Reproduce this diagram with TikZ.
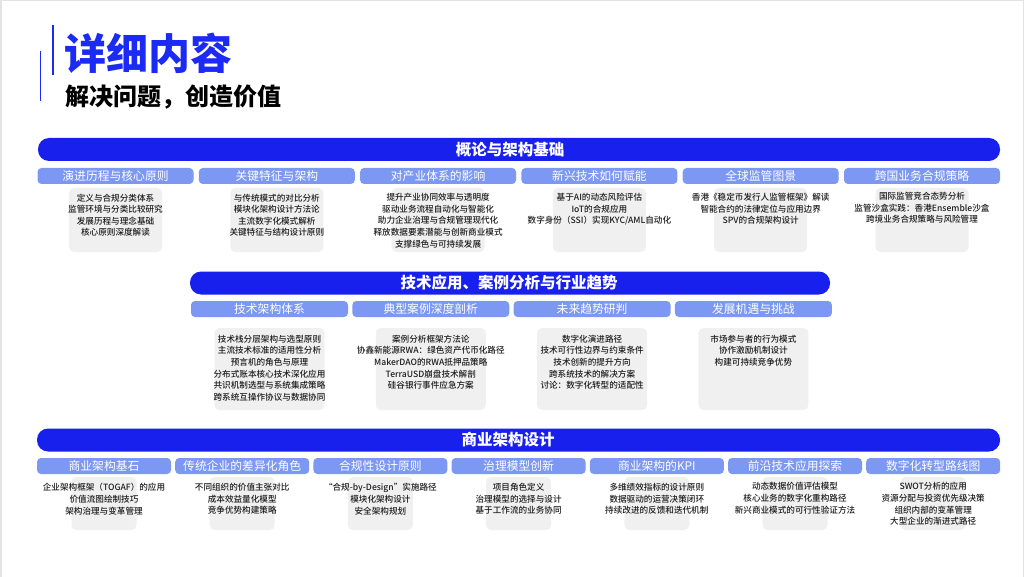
\documentclass[tikz,border=0pt]{standalone}
\usepackage{fontspec}
\setmainfont{Noto Sans CJK SC}
\newfontfamily\heavyfont{Noto Sans CJK SC Black}
\newfontfamily\medfont{Noto Sans CJK SC Medium}
\definecolor{barblue}{RGB}{24,32,238}
\definecolor{titleblue}{RGB}{28,42,245}
\definecolor{hdrblue}{RGB}{124,152,242}
\definecolor{cellgray}{RGB}{240,240,240}
\definecolor{bodytext}{RGB}{30,30,30}
\tikzset{
  banner/.style={fill=barblue, rounded corners=11pt, draw=none, inner sep=0, minimum height=23pt},
  bannertext/.style={text=white, font=\fontsize{15.5}{15.5}\selectfont\heavyfont, inner sep=0},
  hdrbox/.style={fill=hdrblue, rounded corners=4pt, minimum height=16pt, inner sep=0, text=white, font=\fontsize{11.8}{12}\selectfont},
  cellbox/.style={fill=cellgray, rounded corners=5pt, inner sep=0, draw=none},
  bodyline/.style={text=bodytext, font=\fontsize{8.6}{9}\selectfont\medfont, inner sep=0},
  accent/.style={draw=titleblue, line width=1.2pt},
}
\newcommand\celllines[4]{%
  \foreach \t [count=\j] in {#4} {\node[bodyline] (#1-\j) at (#2, {#3+(\j-1)*11.6}) {\t};}%
}
\begin{document}
\begin{tikzpicture}[x=1pt,y=-1pt]
\useasboundingbox (0,0) rectangle (1024,577);
\fill[white] (0,0) rectangle (1024,577);
\draw[gray!22, line width=1.5pt] (0.75,577) -- (0.75,0.75) -- (1023.25,0.75) -- (1023.25,577);

% title block
\coordinate (va) at (53,25); \coordinate (vb) at (53,75);
\coordinate (vc) at (40,51); \coordinate (vd) at (40,101);
\draw[accent] (va) -- (vb);
\draw[accent, line width=1pt] (vc) -- (vd);
\node[anchor=west, inner sep=0, text=titleblue, font=\fontsize{42}{42}\selectfont\heavyfont] (title) at (64,53) {详细内容};
\node[anchor=west, inner sep=0, text=black, font=\fontsize{24}{24}\selectfont\heavyfont] (subtitle) at (65,97) {解决问题，创造价值};

% ===== Row 1 =====
\node[banner, minimum width=962pt] (bar1) at (519,149.5) {};
\node[bannertext] (bar1t) at (510,149.5) {概论与架构基础};
\foreach \t [count=\i] in {演进历程与核心原则,关键特征与架构,对产业体系的影响,新兴技术如何赋能,全球监管图景,跨国业务合规策略} {
  \node[hdrbox, minimum width=156pt] (ha\i) at ({115.5+(\i-1)*161.3},176) {\t};
  \node[cellbox, minimum width=93pt, minimum height=64pt] (ca\i) at ({115.5+(\i-1)*161.3},220) {};
}
\celllines{la1}{115.5}{197.8}{定义与合规分类体系,监管环境与分类比较研究,发展历程与理念基础,核心原则深度解读}
\celllines{la2}{276.8}{197.8}{与传统模式的对比分析,模块化架构设计方法论,主流数字化模式解析,关键特征与结构设计原则}
\celllines{la3}{438.1}{197.5}{提升产业协同效率与透明度,驱动业务流程自动化与智能化,助力企业治理与合规管理现代化,释放数据要素潜能与创新商业模式,支撑绿色与可持续发展}
\celllines{la4}{599.4}{197.5}{基于AI的动态风险评估,IoT的合规应用,数字身份（SSI）实现KYC/AML自动化}
\celllines{la5}{760.7}{197.5}{香港《稳定币发行人监管框架》解读,智能合约的法律定位与应用边界,SPV的合规架构设计}
\celllines{la6}{922.0}{196.5}{国际监管竞合态势分析,监管沙盒实践：香港Ensemble沙盒,跨境业务合规策略与风险管理}

% ===== Row 2 =====
\node[banner, minimum width=640pt] (bar2) at (510,283) {};
\node[bannertext] (bar2t) at (509,283) {技术应用、案例分析与行业趋势};
\foreach \t [count=\i] in {技术架构体系,典型案例深度剖析,未来趋势研判,发展机遇与挑战} {
  \node[hdrbox, minimum width=157pt] (hb\i) at ({269.5+(\i-1)*161.3},309) {\t};
  \node[cellbox, minimum width=110pt, minimum height=82pt] (cb\i) at ({269.5+(\i-1)*161.3},369) {};
}
\celllines{lb1}{269.5}{339}{技术栈分层架构与选型原则,主流技术标准的适用性分析,预言机的角色与原理,分布式账本核心技术深化应用,共识机制选型与系统集成策略,跨系统互操作协议与数据协同}
\celllines{lb2}{430.8}{339}{案例分析框架方法论,协鑫新能源RWA：绿色资产代币化路径,MakerDAO的RWA抵押品策略,TerraUSD崩盘技术解剖,硅谷银行事件应急方案}
\celllines{lb3}{592.1}{339}{数字化演进路径,技术可行性边界与约束条件,技术创新的提升方向,跨系统技术的解决方案,讨论：数字化转型的适配性}
\celllines{lb4}{753.4}{339}{市场参与者的行为模式,协作激励机制设计,构建可持续竞争优势}

% ===== Row 3 =====
\node[banner, minimum width=963pt] (bar3) at (518.5,440) {};
\node[bannertext] (bar3t) at (508,440) {商业架构设计};
\foreach \t [count=\i] in {商业架构基石,传统企业的差异化角色,合规性设计原则,治理模型创新,商业架构的KPI,前沿技术应用探索,数字化转型路线图} {
  \node[hdrbox, minimum width=134pt] (hc\i) at ({104+(\i-1)*138.2},466) {\t};
  \node[cellbox, minimum width=65pt, minimum height=53pt] (cc\i) at ({104+(\i-1)*138.2},503.5) {};
}
\celllines{lc1}{104}{487.5}{企业架构框架（TOGAF）的应用,价值流图绘制技巧,架构治理与变革管理}
\celllines{lc2}{242.2}{487.5}{不同组织的价值主张对比,成本效益量化模型,竞争优势构建策略}
\celllines{lc3}{380.4}{487.5}{“合规-by-Design”实施路径,模块化架构设计,安全架构规划}
\celllines{lc4}{518.6}{487.5}{项目角色定义,治理模型的选择与设计,基于工作流的业务协同}
\celllines{lc5}{656.8}{487.5}{多维绩效指标的设计原则,数据驱动的运营决策闭环,持续改进的反馈和迭代机制}
\celllines{lc6}{795.0}{486.5}{动态数据价值评估模型,核心业务的数字化重构路径,新兴商业模式的可行性验证方法}
\celllines{lc7}{933.2}{486.5}{SWOT分析的应用,资源分配与投资优先级决策,组织内部的变革管理,大型企业的渐进式路径}
\end{tikzpicture}
\end{document}
